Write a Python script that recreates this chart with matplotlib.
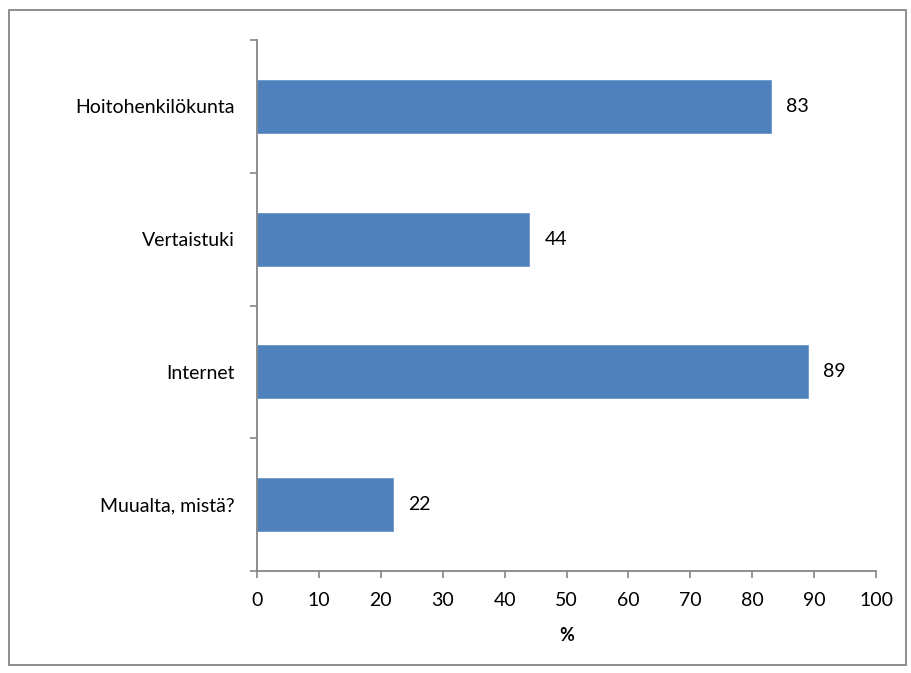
import matplotlib
matplotlib.use("Agg")
import matplotlib.pyplot as plt
from matplotlib.patches import Rectangle

categories = ["Hoitohenkilökunta", "Vertaistuki", "Internet", "Muualta, mistä?"]
values = [83, 44, 89, 22]
xticks = [0, 10, 20, 30, 40, 50, 60, 70, 80, 90, 100]

plt.rcParams["font.family"] = ["Lato", "DejaVu Sans"]
axis_gray = "#868686"
fs = 14

fig = plt.figure(figsize=(9.11, 6.73), dpi=100)
ax = fig.add_axes([257 / 911, 1 - 571 / 673, (876 - 257) / 911, (571 - 40) / 673])

pos = list(range(len(categories)))
bars = ax.barh(pos, values, height=0.4, color="#4F81BD", edgecolor="#6A95C9", linewidth=0.6)
for p, v in zip(pos, values):
    ax.annotate(f"{v}", xy=(v, p), xytext=(11, 0), textcoords="offset points",
                va="center", ha="left", fontsize=fs)

ax.set_xlim(0, 100)
ax.set_ylim(3.5, -0.5)
ax.set_xticks(xticks)
ax.set_xticklabels([str(t) for t in xticks], fontsize=fs)
ax.set_yticks(pos)
ax.set_yticklabels(categories, fontsize=fs)
ax.set_yticks([i - 0.5 for i in range(len(categories) + 1)], minor=True)
ax.tick_params(axis="y", which="major", length=0, pad=16)
ax.tick_params(axis="y", which="minor", length=5, width=1.2, color=axis_gray, direction="out")
ax.tick_params(axis="x", which="major", length=5, width=1.2, color=axis_gray, direction="out", pad=10)

for side in ["top", "right"]:
    ax.spines[side].set_visible(False)
for side in ["left", "bottom"]:
    ax.spines[side].set_color(axis_gray)
    ax.spines[side].set_linewidth(1.3)

ax.set_xlabel("%", fontsize=13, fontweight="bold", labelpad=13)

# chart-area border
fig.patches.append(Rectangle((9 / 911, 1 - 665 / 673), (906 - 9) / 911, (665 - 10) / 673,
                             transform=fig.transFigure, fill=False,
                             edgecolor=axis_gray, linewidth=1.3))

fig.savefig("out.png", dpi=100)
